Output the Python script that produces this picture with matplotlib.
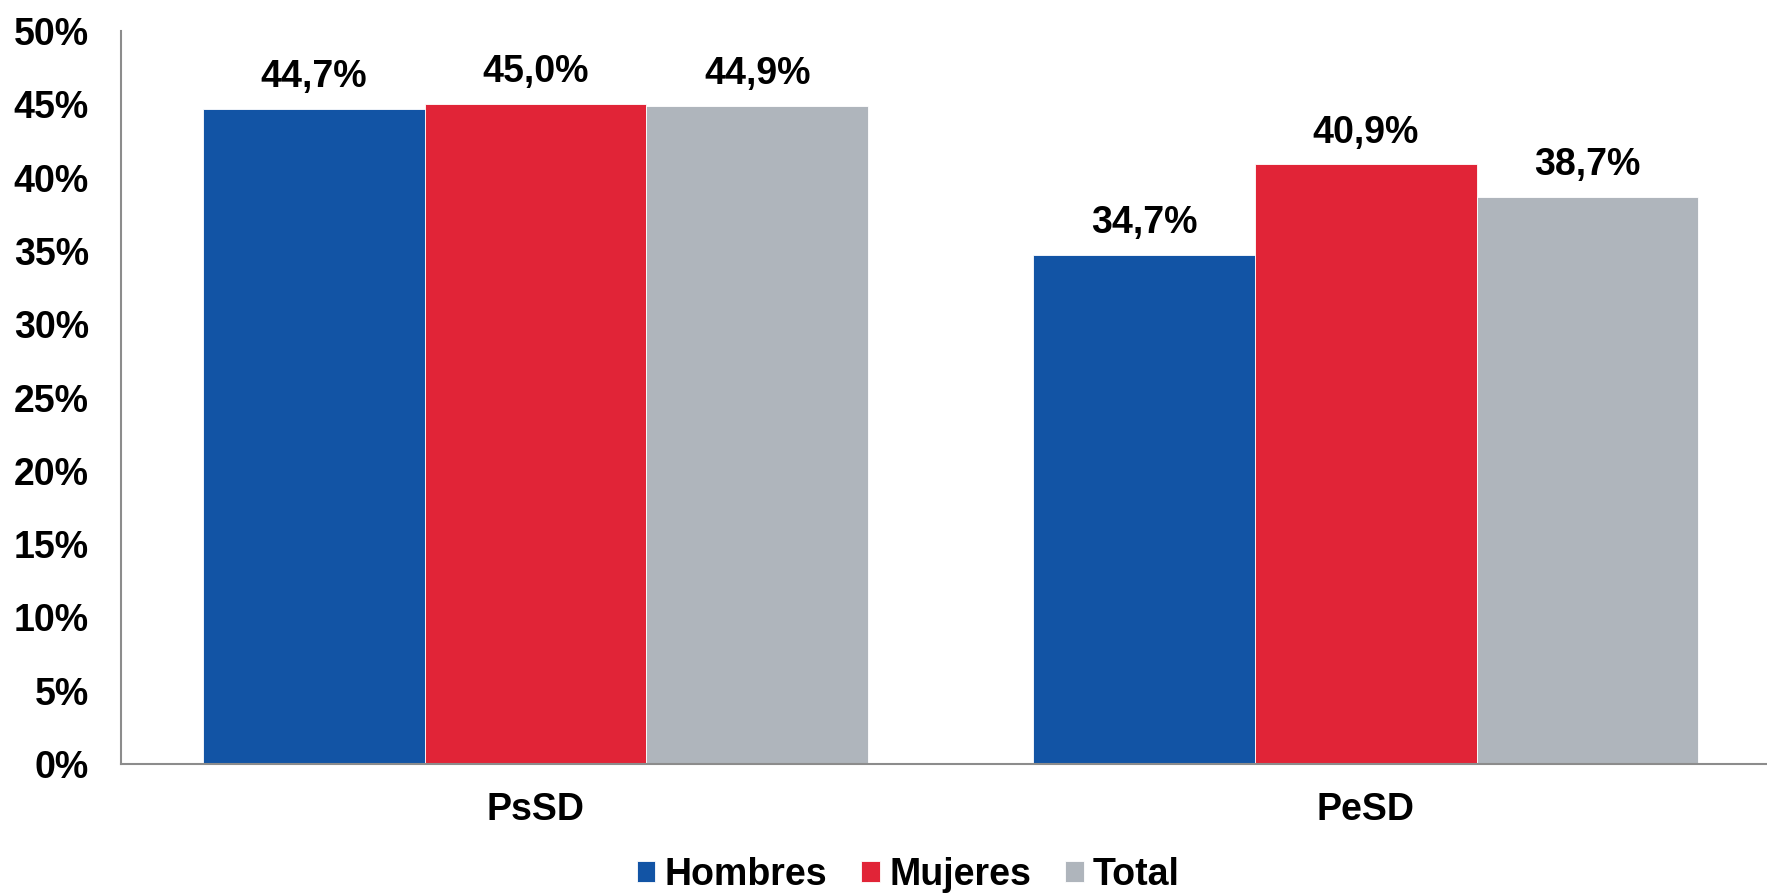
import matplotlib.pyplot as plt
import numpy as np
from matplotlib.ticker import FuncFormatter

categories = ["PsSD", "PeSD"]
series_names = ["Hombres", "Mujeres", "Total"]
hombres = [44.7, 34.7]
mujeres = [45.0, 40.9]
total = [44.9, 38.7]
yticks = [0, 5, 10, 15, 20, 25, 30, 35, 40, 45, 50]

colors = ["#1254A5", "#E12437", "#AFB5BC"]

plt.rcParams["font.family"] = ["Liberation Sans", "DejaVu Sans"]
plt.rcParams["font.weight"] = "bold"

fig = plt.figure(figsize=(17.67, 8.93), dpi=100)
ax = fig.add_axes([121 / 1767, 1 - 764 / 893, 1 - 121 / 1767, (764 - 31) / 893])

x = np.arange(len(categories))
width = 0.267
for i, (name, vals) in enumerate(zip(series_names, [hombres, mujeres, total])):
    bars = ax.bar(x + (i - 1) * width, vals, width, color=colors[i], label=name,
                  edgecolor="white", linewidth=0.6)
    for b, v in zip(bars, vals):
        ax.annotate(f"{v:.1f}%".replace(".", ","), (b.get_x() + b.get_width() / 2, v),
                    xytext=(0, 10), textcoords="offset points", ha="center", va="bottom",
                    fontsize=27, fontweight="bold")

ax.set_xlim(-0.499, 1.483)
ax.set_ylim(0, 50)
ax.set_yticks(yticks)
ax.yaxis.set_major_formatter(FuncFormatter(lambda v, p: f"{v:.0f}%"))
ax.set_xticks(x)
ax.set_xticklabels(categories)
ax.tick_params(axis="both", length=0, labelsize=27)
ax.tick_params(axis="y", pad=23)
ax.tick_params(axis="x", pad=20)
for lbl in ax.get_xticklabels() + ax.get_yticklabels():
    lbl.set_fontweight("bold")

for s in ["top", "right"]:
    ax.spines[s].set_visible(False)
for s in ["left", "bottom"]:
    ax.spines[s].set_color("#8C8C8C")
    ax.spines[s].set_linewidth(1.5)

leg = fig.legend(loc="center", bbox_to_anchor=(0.514, 1 - 875 / 893), ncol=3, frameon=False,
                 fontsize=27, handlelength=0.5, handleheight=0.5, handletextpad=0.25,
                 columnspacing=0.9)
for t in leg.get_texts():
    t.set_fontweight("bold")

fig.savefig("out.png", dpi=100)
